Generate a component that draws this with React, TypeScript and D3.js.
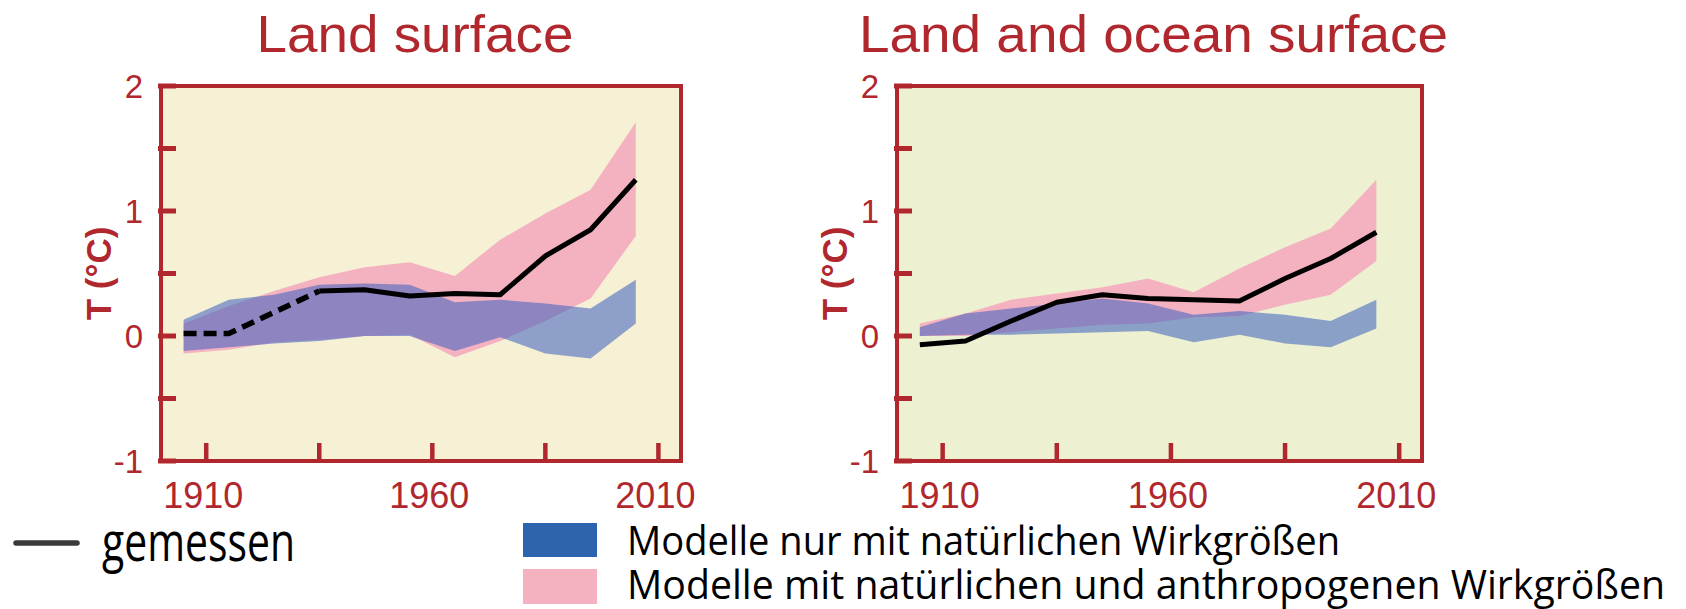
import React from 'react';
import * as d3 from 'd3';

// decade centres
const years = [1905, 1915, 1925, 1935, 1945, 1955, 1965, 1975, 1985, 1995, 2005];

// Land surface
const landObs = [0.02, 0.02, 0.19, 0.36, 0.37, 0.32, 0.34, 0.33, 0.64, 0.85, 1.25];
const landNatLo = [-0.12, -0.09, -0.06, -0.04, 0.0, 0.0, -0.12, -0.01, -0.14, -0.18, 0.1];
const landNatHi = [0.13, 0.29, 0.33, 0.41, 0.42, 0.41, 0.27, 0.29, 0.26, 0.22, 0.45];
const landAllLo = [-0.14, -0.11, -0.05, -0.03, 0.0, 0.01, -0.17, -0.04, 0.12, 0.3, 0.8];
const landAllHi = [0.1, 0.24, 0.36, 0.47, 0.55, 0.59, 0.48, 0.77, 0.98, 1.17, 1.71];

// Land and ocean surface
const oceanObs = [-0.07, -0.04, 0.12, 0.27, 0.33, 0.3, 0.29, 0.28, 0.46, 0.62, 0.83];
const oceanNatLo = [0.0, 0.01, 0.01, 0.02, 0.03, 0.04, -0.05, 0.01, -0.06, -0.09, 0.06];
const oceanNatHi = [0.07, 0.18, 0.22, 0.26, 0.3, 0.26, 0.17, 0.2, 0.17, 0.12, 0.29];
const oceanAllLo = [0.0, 0.0, 0.03, 0.06, 0.09, 0.1, 0.15, 0.16, 0.25, 0.33, 0.6];
const oceanAllHi = [0.1, 0.18, 0.29, 0.34, 0.39, 0.46, 0.35, 0.54, 0.71, 0.86, 1.25];

const yLabels = [2, 1, 0, -1];
const yTicks = [2, 1.5, 1, 0.5, 0, -0.5, -1];
const xTicks = [1910, 1935, 1960, 1985, 2010];
const xLabels = [1910, 1960, 2010];

const RED = '#b0282e';
const PINK = '#f4b2c0';
const BLUE = 'rgb(57,95,192)';
const TOP = 86;
const BOTTOM = 461;

function Panel(props: any) {
  const { x0, x1, title, titleWidth, bg, obs, natLo, natHi, allLo, allHi, dashCount } = props;
  const x = d3.scaleLinear().domain([1900, 2015]).range([x0, x1]);
  const y = d3.scaleLinear().domain([-1, 2]).range([BOTTOM, TOP]);

  const band = (lo: number[], hi: number[]) =>
    d3.area<number>()
      .x((d) => x(d))
      .y0((d, i) => y(lo[i]))
      .y1((d, i) => y(hi[i]))(years);

  const idx = years.map((d, i) => i);
  const lineIdx = d3.line<number>().x((i) => x(years[i])).y((i) => y(obs[i]));
  const dashed = idx.slice(0, dashCount);
  const solid = idx.slice(Math.max(dashCount - 1, 0));

  const font = '"Liberation Sans", Arial, sans-serif';
  return (
    <g>
      <text
        x={(x0 + x1) / 2 - 6 - titleWidth / 2}
        y={52}
        fill={RED}
        fontFamily={font}
        fontSize={52}
        textLength={titleWidth}
        lengthAdjust="spacingAndGlyphs"
      >
        {title}
      </text>
      <rect x={x0} y={TOP} width={x1 - x0} height={BOTTOM - TOP} fill={bg} />
      <path d={band(allLo, allHi) || ''} fill={PINK} />
      <path d={band(natLo, natHi) || ''} fill={BLUE} fillOpacity={0.55} />
      {dashed.length > 1 && (
        <path d={lineIdx(dashed) || ''} fill="none" stroke="#000" strokeWidth={5.5} strokeDasharray="13,7" />
      )}
      <path d={lineIdx(solid) || ''} fill="none" stroke="#000" strokeWidth={5} strokeLinejoin="round" />
      <rect x={x0} y={TOP} width={x1 - x0} height={BOTTOM - TOP} fill="none" stroke={RED} strokeWidth={4} />
      {yTicks.map((t) => (
        <line key={'yt' + t} x1={x0 - 3} x2={x0 + 15} y1={y(t)} y2={y(t)} stroke={RED} strokeWidth={5} />
      ))}
      {xTicks.map((t) => (
        <line key={'xt' + t} x1={x(t)} x2={x(t)} y1={BOTTOM} y2={BOTTOM - 18} stroke={RED} strokeWidth={4.5} />
      ))}
      {yLabels.map((t) => (
        <text key={'yl' + t} x={x0 - 18} y={y(t)} dy="0.36em" textAnchor="end" fill={RED} fontFamily={font} fontSize={33}>
          {t}
        </text>
      ))}
      {xLabels.map((t) => (
        <text key={'xl' + t} x={x(t) - 3} y={508} textAnchor="middle" fill={RED} fontFamily={font} fontSize={36}>
          {t}
        </text>
      ))}
      <text
        transform={`translate(${x0 - 50},${(TOP + BOTTOM) / 2}) rotate(-90)`}
        textAnchor="middle"
        fill={RED}
        fontFamily={font}
        fontWeight="bold"
        fontSize={35}
      >
        T (°C)
      </text>
    </g>
  );
}

export default function App() {
  const legendFont = '"Open Sans", "Noto Sans", sans-serif';
  return (
    <svg
      width={1686}
      height={609}
      style={{ position: 'absolute', left: 0, top: 0, background: '#fff' }}
    >
      <Panel
        x0={161}
        x1={681}
        title="Land surface"
        titleWidth={317}
        bg="#f6f0d4"
        obs={landObs}
        natLo={landNatLo}
        natHi={landNatHi}
        allLo={landAllLo}
        allHi={landAllHi}
        dashCount={4}
      />
      <Panel
        x0={897}
        x1={1422}
        title="Land and ocean surface"
        titleWidth={589}
        bg="#edf0d1"
        obs={oceanObs}
        natLo={oceanNatLo}
        natHi={oceanNatHi}
        allLo={oceanAllLo}
        allHi={oceanAllHi}
        dashCount={0}
      />

      {/* legend */}
      <line x1={16} x2={77} y1={543} y2={543} stroke="#3a3a3a" strokeWidth={5.5} strokeLinecap="round" />
      <text x={102} y={561} fontFamily={legendFont} fontSize={54} fill="#000" textLength={193} lengthAdjust="spacingAndGlyphs">
        gemessen
      </text>
      <rect x={523} y={523} width={74} height={34} fill="#2e63ad" />
      <rect x={523} y={569} width={74} height={35} fill="#f4b1c0" />
      <text x={627} y={555} fontFamily={legendFont} fontSize={41} fill="#000" textLength={713} lengthAdjust="spacingAndGlyphs">
        Modelle nur mit natürlichen Wirkgrößen
      </text>
      <text x={627} y={599} fontFamily={legendFont} fontSize={41} fill="#000" textLength={1038} lengthAdjust="spacingAndGlyphs">
        Modelle mit natürlichen und anthropogenen Wirkgrößen
      </text>
    </svg>
  );
}
